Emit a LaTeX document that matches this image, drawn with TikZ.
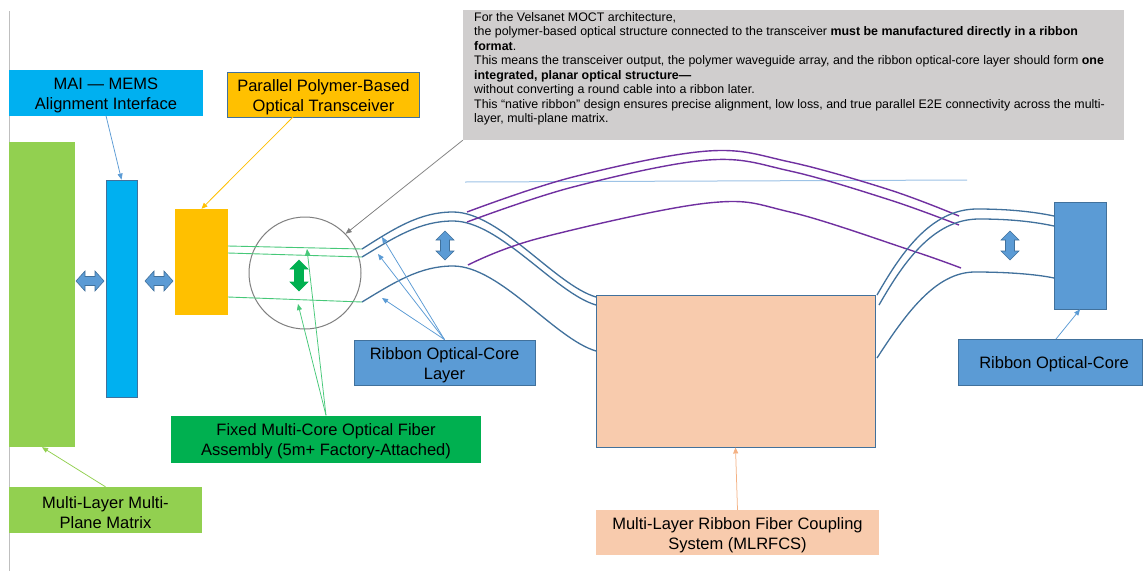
\documentclass[tikz,border=0pt]{standalone}
\usepackage{fontspec}
\setmainfont{Liberation Sans}
\usetikzlibrary{arrows.meta}
\definecolor{cyanA}{HTML}{00B0F0}
\definecolor{bdr}{HTML}{41719C}
\definecolor{bluefill}{HTML}{5B9BD5}
\definecolor{orangeA}{HTML}{FFC000}
\definecolor{greenA}{HTML}{92D050}
\definecolor{greenB}{HTML}{00B050}
\definecolor{pinkA}{HTML}{F8CBAD}
\definecolor{pinkB}{HTML}{F4B183}
\definecolor{grayA}{HTML}{D0CECE}
\definecolor{grayB}{HTML}{7F7F7F}
\definecolor{purpleA}{HTML}{7030A0}
\definecolor{fibgreen}{RGB}{70,200,120}
\definecolor{lineblue}{HTML}{9DC3E6}
\newcommand{\lblstrut}{\rule{0pt}{17pt}}
\begin{document}
\begin{tikzpicture}[x=1pt,y=-1pt,
  lbl/.style={inner sep=0pt, align=center, font=\fontsize{16.5}{20}\selectfont, text=black},
  blk/.style={inner sep=0pt},
  ptr/.style={line width=0.75pt, -{Triangle[length=6pt,width=5pt]}},
  fib/.style={line width=1.3pt, bdr},
  pur/.style={line width=1.4pt, purpleA},
  fgl/.style={line width=0.9pt, fibgreen},
  pics/dblarrow/.style n args={3}{code={
    \path[pic actions] (-#1,0) -- ({-#1+9},-#2) -- ({-#1+9},-#3) -- ({#1-9},-#3) -- ({#1-9},-#2) -- (#1,0)
      -- ({#1-9},#2) -- ({#1-9},#3) -- ({-#1+9},#3) -- ({-#1+9},#2) -- cycle;}},
]
\useasboundingbox (0,0) rectangle (1143,571);
\fill[white] (0,0) rectangle (1143,571);
\draw[black!25, line width=0.8pt] (9,11) -- (9,571);

% note box
\node[blk, fill=grayA, minimum width=661pt, minimum height=130pt] (note) at (793.5,75) {};
\node[anchor=north west, inner sep=0pt, align=left, font=\fontsize{12.4}{14.5}\selectfont] (notetext) at (474,12) {For the Velsanet MOCT architecture,\\
the polymer-based optical structure connected to the transceiver \textbf{must be manufactured directly in a ribbon}\\
\textbf{format}.\\
This means the transceiver output, the polymer waveguide array, and the ribbon optical-core layer should form \textbf{one}\\
\textbf{integrated, planar optical structure—}\\
without converting a round cable into a ribbon later.\\
This “native ribbon” design ensures precise alignment, low loss, and true parallel E2E connectivity across the multi-\\
layer, multi-plane matrix.};

% blocks
\node[lbl, fill=cyanA, minimum width=194pt, minimum height=46pt] (mailbl) at (106,92.5) {\lblstrut MAI — MEMS\\Alignment Interface};
\node[blk, fill=greenA, minimum width=66pt, minimum height=305pt] (mtx) at (42,294.5) {};
\node[lbl, fill=greenA, minimum width=193pt, minimum height=46pt] (mtxlbl) at (105.5,510) {\lblstrut Multi-Layer Multi-\\Plane Matrix};
\node[blk, fill=cyanA, draw=bdr, line width=0.8pt, minimum width=31pt, minimum height=217pt] (bar) at (121.5,288.5) {};
\node[blk, fill=orangeA, minimum width=53pt, minimum height=106pt] (trx) at (201.5,262) {};
\node[lbl, fill=orangeA, draw=bdr, line width=0.8pt, minimum width=192pt, minimum height=45pt] (trxlbl) at (323.5,94.5) {\lblstrut Parallel Polymer-Based\\Optical Transceiver};
\node[lbl, fill=greenB, minimum width=310pt, minimum height=47pt] (fixlbl) at (326,439) {\lblstrut Fixed Multi-Core Optical Fiber\\Assembly (5m+ Factory-Attached)};
\node[lbl, fill=bluefill, draw=bdr, line width=0.8pt, minimum width=181pt, minimum height=45pt] (ribL) at (444.5,362.5) {\lblstrut Ribbon Optical-Core\\Layer};
\node[lbl, fill=pinkA, minimum width=283pt, minimum height=45pt] (mlrlbl) at (737.5,532.5) {\lblstrut Multi-Layer Ribbon Fiber Coupling\\System (MLRFCS)};
\node[blk, fill=bluefill, draw=bdr, line width=0.8pt, minimum width=52pt, minimum height=107pt] (rr) at (1080,255.5) {};
\node[lbl, fill=bluefill, draw=bdr, line width=0.8pt, minimum width=184pt, minimum height=46pt] (ribR) at (1050,362) {\lblstrut\hspace*{8pt}Ribbon Optical-Core};
\node[circle, draw=grayB, line width=1pt, minimum size=112pt, inner sep=0pt] (circ) at (305,273) {};

% fiber green lines
\coordinate (ga1) at (228,246); \coordinate (gb1) at (362,249);
\coordinate (ga2) at (228,253); \coordinate (gb2) at (362,257);
\coordinate (ga3) at (228,297); \coordinate (gb3) at (362,302);
\draw[fgl] (ga1) -- (gb1);
\draw[fgl] (ga2) -- (gb2);
\draw[fgl] (ga3) -- (gb3);

% light blue line
\coordinate (lb1) at (465,182); \coordinate (lb2) at (967,180);
\draw[lineblue, line width=1pt] (lb1) -- (lb2);

% left blue curves
\draw[fib] (gb1) .. controls (395,228) and (420,212) .. (453,212) .. controls (500,212) and (555,285) .. (596,297);
\draw[fib] (gb2) .. controls (395,237) and (420,221) .. (453,221) .. controls (500,221) and (555,293) .. (596,305);
\draw[fib] (gb3) .. controls (395,282) and (420,266) .. (453,266) .. controls (500,266) and (555,339) .. (596,351);

% purple curves
\draw[pur] plot[smooth, tension=0.6] coordinates {(467,212) (573,177) (708,151) (790,162) (890,190) (959,216)};
\draw[pur] plot[smooth, tension=0.6] coordinates {(467,222) (573,187) (708,160) (790,171) (890,200) (959,225)};
\draw[pur] plot[smooth, tension=0.6] coordinates {(468,265) (540,238) (708,203) (790,212) (910,250) (961,268)};

% pink block (over curve ends)
\node[blk, fill=pinkA, draw=bdr, line width=0.9pt, minimum width=279pt, minimum height=152pt] (mlr) at (735.5,371) {};

% right blue curves
\draw[fib] (877,295) .. controls (900,255) and (930,209) .. (977,209) .. controls (1010,209) and (1035,212) .. (1054,216);
\draw[fib] (879,305) .. controls (902,265) and (932,219) .. (979,219) .. controls (1012,219) and (1035,222) .. (1054,226);
\draw[fib] (877,358) .. controls (905,315) and (935,272) .. (975,272) .. controls (1005,272) and (1035,274) .. (1054,278);

% double arrows
\pic[fill=bluefill, draw=bdr, line width=0.6pt] at (90,281) {dblarrow={14}{10}{4.5}};
\pic[fill=bluefill, draw=bdr, line width=0.6pt] at (159,281) {dblarrow={14}{10}{4.5}};
\pic[fill=bluefill, draw=bdr, line width=0.6pt, rotate=90] at (445,245.5) {dblarrow={14.5}{9}{4.5}};
\pic[fill=bluefill, draw=bdr, line width=0.6pt, rotate=90] at (1010,245.5) {dblarrow={14.5}{9}{4.5}};
\pic[fill=greenB, draw=greenB, line width=0.6pt, rotate=90] at (299,275.5) {dblarrow={15.5}{9}{4.5}};

% pointer arrows
\draw[ptr, bluefill] (mailbl.south) -- (bar.north);
\coordinate (tl) at (293,117);
\draw[ptr, orangeA] (tl) -- (trx.north);
\draw[ptr, grayB] (note.south west) -- (circ.44);
\coordinate (gt1) at (307,249); \coordinate (gt2) at (298,304);
\draw[ptr, fibgreen] (fixlbl.north) -- (gt1);
\draw[ptr, fibgreen] (fixlbl.north) -- (gt2);
\coordinate (rt1) at (382,237); \coordinate (rt2) at (378,254); \coordinate (rt3) at (382,298);
\draw[ptr, bluefill] (ribL.north) -- (rt1);
\draw[ptr, bluefill] (ribL.north) -- (rt2);
\draw[ptr, bluefill] (ribL.north) -- (rt3);
\coordinate (rs) at (1056,339);
\draw[ptr, bluefill] (rs) -- (rr.south);
\draw[ptr, pinkB] (mlrlbl.north) -- (mlr.south);
\draw[ptr, greenA] (mtxlbl.north) -- (mtx.south);
\end{tikzpicture}
\end{document}
